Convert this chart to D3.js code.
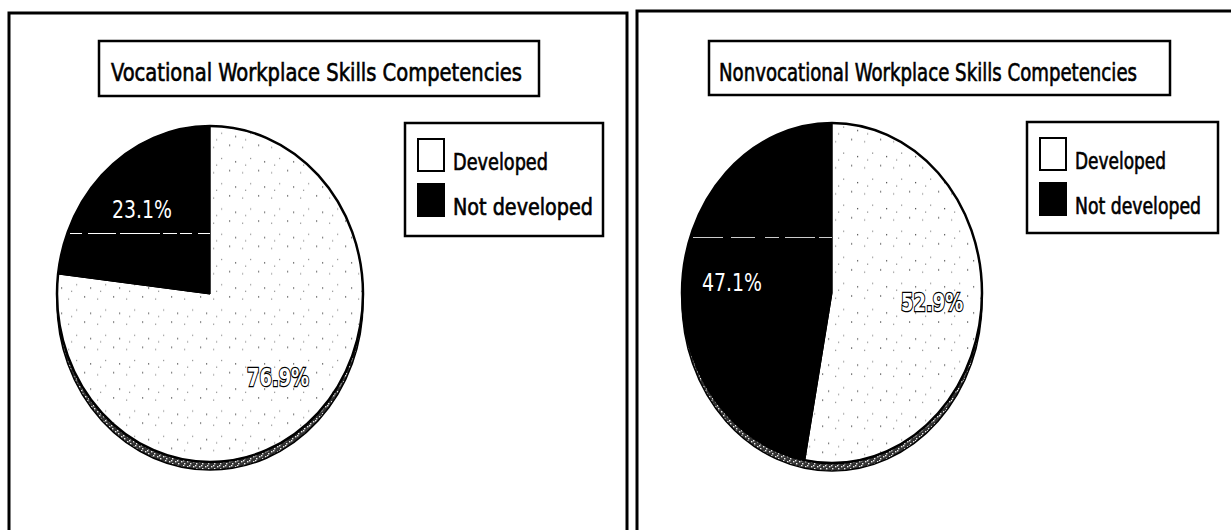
<!DOCTYPE html>
<html>
<head>
<meta charset="utf-8">
<script src="https://cdn.jsdelivr.net/npm/d3@7"></script>
<style>
  body { margin: 0; background: #fff; }
  svg { display: block; }
</style>
</head>
<body>
<svg id="chart"></svg>
<script>
// chart data
let categories = ["Developed", "Not developed"];
let vocationalValues = [76.9, 23.1];
let nonvocationalValues = [52.9, 47.1];
let titles = ["Vocational Workplace Skills Competencies", "Nonvocational Workplace Skills Competencies"];

let w = 1231;
let h = 530;

// layout for each panel
let panels = [
  { values: vocationalValues, title: titles[0],
    frame: [9, 13, 627, 560],
    titleBox: [99, 41, 539, 96], titleText: [111, 81, 411],
    legendBox: [405, 123, 603, 236], legendLen: [95, 140],
    cx: 210, cy: 294, rx: 153, ry: 168, leaderY: -61, leaderColor: "#fff", leaderDash: "12,6,28,4,40,3,14,3" },
  { values: nonvocationalValues, title: titles[1],
    frame: [637, 11, 1260, 560],
    titleBox: [709, 41, 1170, 95], titleText: [719, 81, 418],
    legendBox: [1027, 122, 1218, 233], legendLen: [91, 126],
    cx: 832, cy: 293, rx: 150, ry: 170, leaderY: -56, leaderColor: "#ccc", leaderDash: "30,8,24,10,14,6,30,4" }
];

let colors = d3.scaleOrdinal().domain(categories).range(["url(#stipple)", "#000"]);
let font = "'DejaVu Sans Condensed', 'DejaVu Sans', sans-serif";

let svg = d3.select("#chart")
  .attr("width", w)
  .attr("height", h);

// textures
let defs = svg.append("defs");
let stip = defs.append("pattern")
  .attr("id", "stipple")
  .attr("patternUnits", "userSpaceOnUse")
  .attr("width", 29).attr("height", 23);
stip.append("rect").attr("width", 29).attr("height", 23).attr("fill", "#fff");
[[3, 4], [19, 2], [11, 14], [25, 17], [6, 20]].forEach((p, i) => {
  stip.append("rect").attr("x", p[0]).attr("y", p[1])
    .attr("width", 1.2).attr("height", 1.2)
    .attr("fill", i % 2 ? "#555" : "#999");
});
let rim = defs.append("pattern")
  .attr("id", "rim")
  .attr("patternUnits", "userSpaceOnUse")
  .attr("width", 6).attr("height", 5);
rim.append("rect").attr("width", 6).attr("height", 5).attr("fill", "#333");
[[1, 1], [4, 3], [3, 0]].forEach((p) => {
  rim.append("rect").attr("x", p[0]).attr("y", p[1])
    .attr("width", 1.4).attr("height", 1.4).attr("fill", "#eee");
});

let pie = d3.pie().sort(null).value((d) => d.value);

panels.forEach((p) => {
  let g = svg.append("g");

  // frame
  g.append("rect")
    .attr("x", p.frame[0]).attr("y", p.frame[1])
    .attr("width", p.frame[2] - p.frame[0]).attr("height", p.frame[3] - p.frame[1])
    .attr("fill", "none").attr("stroke", "#000").attr("stroke-width", 3);

  // title
  g.append("rect")
    .attr("x", p.titleBox[0]).attr("y", p.titleBox[1])
    .attr("width", p.titleBox[2] - p.titleBox[0]).attr("height", p.titleBox[3] - p.titleBox[1])
    .attr("fill", "#fff").attr("stroke", "#000").attr("stroke-width", 2.5);
  g.append("text")
    .attr("x", p.titleText[0]).attr("y", p.titleText[1])
    .attr("textLength", p.titleText[2]).attr("lengthAdjust", "spacingAndGlyphs")
    .attr("font-family", font)
    .attr("font-size", 24)
    .attr("stroke", "#000").attr("stroke-width", 0.6)
    .text(p.title);

  // legend
  let lb = p.legendBox;
  g.append("rect")
    .attr("x", lb[0]).attr("y", lb[1])
    .attr("width", lb[2] - lb[0]).attr("height", lb[3] - lb[1])
    .attr("fill", "#fff").attr("stroke", "#000").attr("stroke-width", 2.5);
  let legendY = d3.scalePoint().domain(categories).range([lb[1] + 33, lb[1] + 78]);
  let li = g.selectAll(".leg").data(categories).enter().append("g");
  li.append("rect")
    .attr("x", lb[0] + 13)
    .attr("y", (d) => legendY(d) - 17)
    .attr("width", 26).attr("height", 32)
    .attr("fill", (d, i) => i ? "#000" : "#fff")
    .attr("stroke", "#000").attr("stroke-width", 2);
  li.append("text")
    .attr("x", lb[0] + 48)
    .attr("y", (d) => legendY(d) + 14)
    .attr("font-family", font)
    .attr("font-size", 23)
    .attr("stroke", "#000").attr("stroke-width", 0.6)
    .attr("textLength", (d, i) => p.legendLen[i])
    .attr("lengthAdjust", "spacingAndGlyphs")
    .text((d) => d);

  // pie
  let data = categories.map((c, i) => ({ cat: c, value: p.values[i] }));
  let arcs = pie(data);
  let arc = d3.arc().innerRadius(0).outerRadius(p.rx);
  let labelArc = d3.arc().innerRadius(p.rx * 0.67).outerRadius(p.rx * 0.67);
  let k = p.ry / p.rx;

  // rim / depth
  g.append("ellipse")
    .attr("cx", p.cx).attr("cy", p.cy + 8)
    .attr("rx", p.rx).attr("ry", p.ry)
    .attr("fill", "url(#rim)").attr("stroke", "#000").attr("stroke-width", 1.5);

  let pg = g.append("g")
    .attr("transform", `translate(${p.cx},${p.cy}) scale(1,${k})`);
  pg.selectAll("path").data(arcs).enter().append("path")
    .attr("d", arc)
    .attr("fill", (d) => colors(d.data.cat))
    .attr("stroke", "#000").attr("stroke-width", 1)
    .attr("vector-effect", "non-scaling-stroke");

  g.append("ellipse")
    .attr("cx", p.cx).attr("cy", p.cy)
    .attr("rx", p.rx).attr("ry", p.ry)
    .attr("fill", "none").attr("stroke", "#000").attr("stroke-width", 2.5);

  // leader line inside the dark slice
  let dy = p.leaderY;
  let x0 = p.cx - p.rx * Math.sqrt(1 - (dy / p.ry) * (dy / p.ry));
  g.append("line")
    .attr("x1", x0 + 3).attr("x2", p.cx)
    .attr("y1", p.cy + dy + 0.5).attr("y2", p.cy + dy + 0.5)
    .attr("stroke", p.leaderColor).attr("stroke-width", 1.5)
    .attr("shape-rendering", "crispEdges")
    .attr("stroke-dasharray", p.leaderDash);

  // labels
  arcs.forEach((a, i) => {
    let c = labelArc.centroid(a);
    let t = g.append("text")
      .attr("x", p.cx + c[0])
      .attr("y", p.cy + c[1] * k)
      .attr("text-anchor", "middle")
      .attr("dominant-baseline", "central")
      .attr("font-family", "'DejaVu Sans', sans-serif")
      .attr("font-size", 24)
      .text(d3.format(".1f")(a.data.value) + "%");
    if (i === 0) {
      t.attr("fill", "#fff").attr("stroke", "#000").attr("stroke-width", 2.4)
        .attr("paint-order", "stroke").attr("font-weight", "bold")
        .attr("textLength", 62).attr("lengthAdjust", "spacingAndGlyphs");
    } else {
      t.attr("fill", "#fff")
        .attr("textLength", 60).attr("lengthAdjust", "spacingAndGlyphs");
    }
  });
});
</script>
</body>
</html>
